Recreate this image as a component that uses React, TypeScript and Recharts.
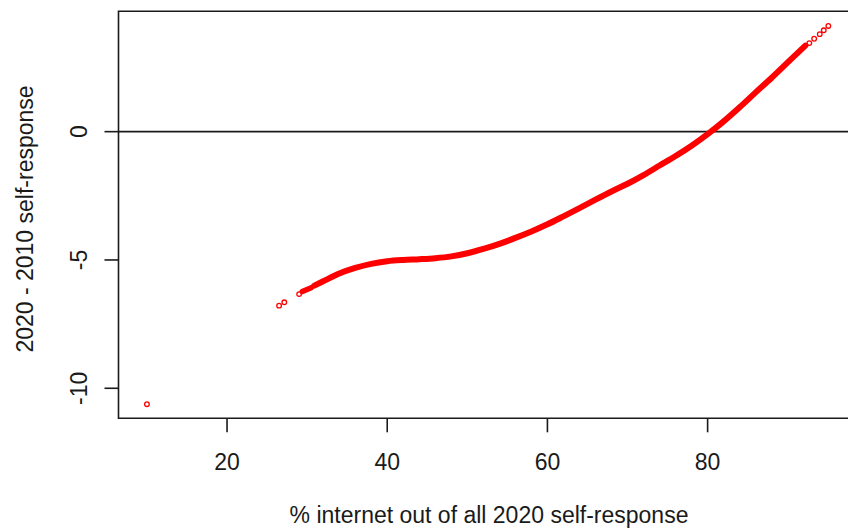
import React from "react";
import {
  ComposedChart,
  Line,
  Scatter,
  XAxis,
  YAxis,
  ReferenceLine,
  ReferenceArea,
  Label,
} from "recharts";

// values
const xTicks = [20, 40, 60, 80];
const yTicks = [-10, -5, 0];
const xDomain = [6.45, 98.65];
const yDomain = [-11.17, 4.69];

const outliers = [
  { x: 10.0, y: -10.62 },
  { x: 26.5, y: -6.78 },
  { x: 27.15, y: -6.65 },
  { x: 29.0, y: -6.33 },
];

const shortSegment = [
  { x: 29.4, y: -6.23 },
  { x: 30.5, y: -6.08 },
];

const mainCurve = [
  { x: 30.9, y: -6.0 },
  { x: 32, y: -5.83 },
  { x: 34, y: -5.53 },
  { x: 36, y: -5.31 },
  { x: 38, y: -5.15 },
  { x: 40, y: -5.05 },
  { x: 42, y: -5.0 },
  { x: 44, y: -4.97 },
  { x: 46, y: -4.93 },
  { x: 48, y: -4.86 },
  { x: 50, y: -4.74 },
  { x: 52, y: -4.57 },
  { x: 54, y: -4.37 },
  { x: 56, y: -4.14 },
  { x: 58, y: -3.89 },
  { x: 60, y: -3.61 },
  { x: 62, y: -3.3 },
  { x: 64, y: -2.98 },
  { x: 66, y: -2.65 },
  { x: 68, y: -2.33 },
  { x: 70, y: -2.03 },
  { x: 72, y: -1.69 },
  { x: 74, y: -1.32 },
  { x: 76, y: -0.95 },
  { x: 78, y: -0.55 },
  { x: 80, y: -0.1 },
  { x: 82, y: 0.4 },
  { x: 84, y: 0.95 },
  { x: 86, y: 1.53 },
  { x: 88, y: 2.1 },
  { x: 90, y: 2.7 },
  { x: 92.2, y: 3.35 },
];

const tailPoints = [
  { x: 92.7, y: 3.45 },
  { x: 93.3, y: 3.62 },
  { x: 94.0, y: 3.8 },
  { x: 94.5, y: 3.95 },
  { x: 95.07, y: 4.12 },
];

const FONT = "'Liberation Sans', Arial, sans-serif";
const FS = 23;
const INK = "#1a1a1a";
const RED = "#ff0000";

const XTick = (props: any) => (
  <text x={props.x} y={461.7} textAnchor="middle" dominantBaseline="central" fontFamily={FONT} fontSize={FS} fill={INK}>
    {props.payload.value}
  </text>
);

const YTick = (props: any) => (
  <text
    x={78.7}
    y={props.y}
    transform={`rotate(-90, 78.7, ${props.y})`}
    textAnchor="middle"
    dominantBaseline="central"
    fontFamily={FONT}
    fontSize={FS}
    fill={INK}
  >
    {props.payload.value}
  </text>
);

const OpenCircle = (props: any) => (
  <circle cx={props.cx} cy={props.cy} r={2.3} fill="none" stroke={RED} strokeWidth={1.3} />
);

export default function App() {
  return (
    <div style={{ position: "absolute", left: 0, top: 0, width: 848, height: 529, overflow: "hidden", background: "#fff" }}>
      <ComposedChart width={860} height={529} margin={{ top: 11.3, right: 3, left: 0, bottom: 0 }}>
        <XAxis
          type="number"
          dataKey="x"
          domain={xDomain}
          ticks={xTicks}
          allowDataOverflow
          height={110.7}
          axisLine={false}
          tickSize={14}
          tickLine={{ stroke: INK, strokeWidth: 1.6 }}
          tick={<XTick />}
        >
          <Label
            content={() => (
              <text x={489} y={515} textAnchor="middle" dominantBaseline="central" fontFamily={FONT} fontSize={FS} fill={INK}>
                % internet out of all 2020 self-response
              </text>
            )}
          />
        </XAxis>
        <YAxis
          type="number"
          dataKey="y"
          domain={yDomain}
          ticks={yTicks}
          allowDataOverflow
          width={118.5}
          axisLine={false}
          tickSize={14}
          tickLine={{ stroke: INK, strokeWidth: 1.6 }}
          tick={<YTick />}
        >
          <Label
            content={() => (
              <text
                x={25}
                y={219}
                transform="rotate(-90, 25, 219)"
                textAnchor="middle"
                dominantBaseline="central"
                fontFamily={FONT}
                fontSize={FS}
                fill={INK}
              >
                2020 - 2010 self-response
              </text>
            )}
          />
        </YAxis>
        <ReferenceArea
          x1={xDomain[0]}
          x2={xDomain[1]}
          y1={yDomain[0]}
          y2={yDomain[1]}
          fill="none"
          fillOpacity={0}
          stroke={INK}
          strokeWidth={1.6}
          strokeOpacity={1}
          ifOverflow="visible"
        />
        <ReferenceLine y={0} stroke={INK} strokeWidth={1.6} ifOverflow="visible" />
        <Line
          data={shortSegment}
          dataKey="y"
          type="linear"
          stroke={RED}
          strokeWidth={5.5}
          strokeLinecap="round"
          dot={false}
          activeDot={false}
          isAnimationActive={false}
        />
        <Line
          data={mainCurve}
          dataKey="y"
          type="monotone"
          stroke={RED}
          strokeWidth={6}
          strokeLinecap="round"
          dot={false}
          activeDot={false}
          isAnimationActive={false}
        />
        <Scatter data={outliers} dataKey="y" shape={<OpenCircle />} isAnimationActive={false} />
        <Scatter data={tailPoints} dataKey="y" shape={<OpenCircle />} isAnimationActive={false} />
      </ComposedChart>
    </div>
  );
}
